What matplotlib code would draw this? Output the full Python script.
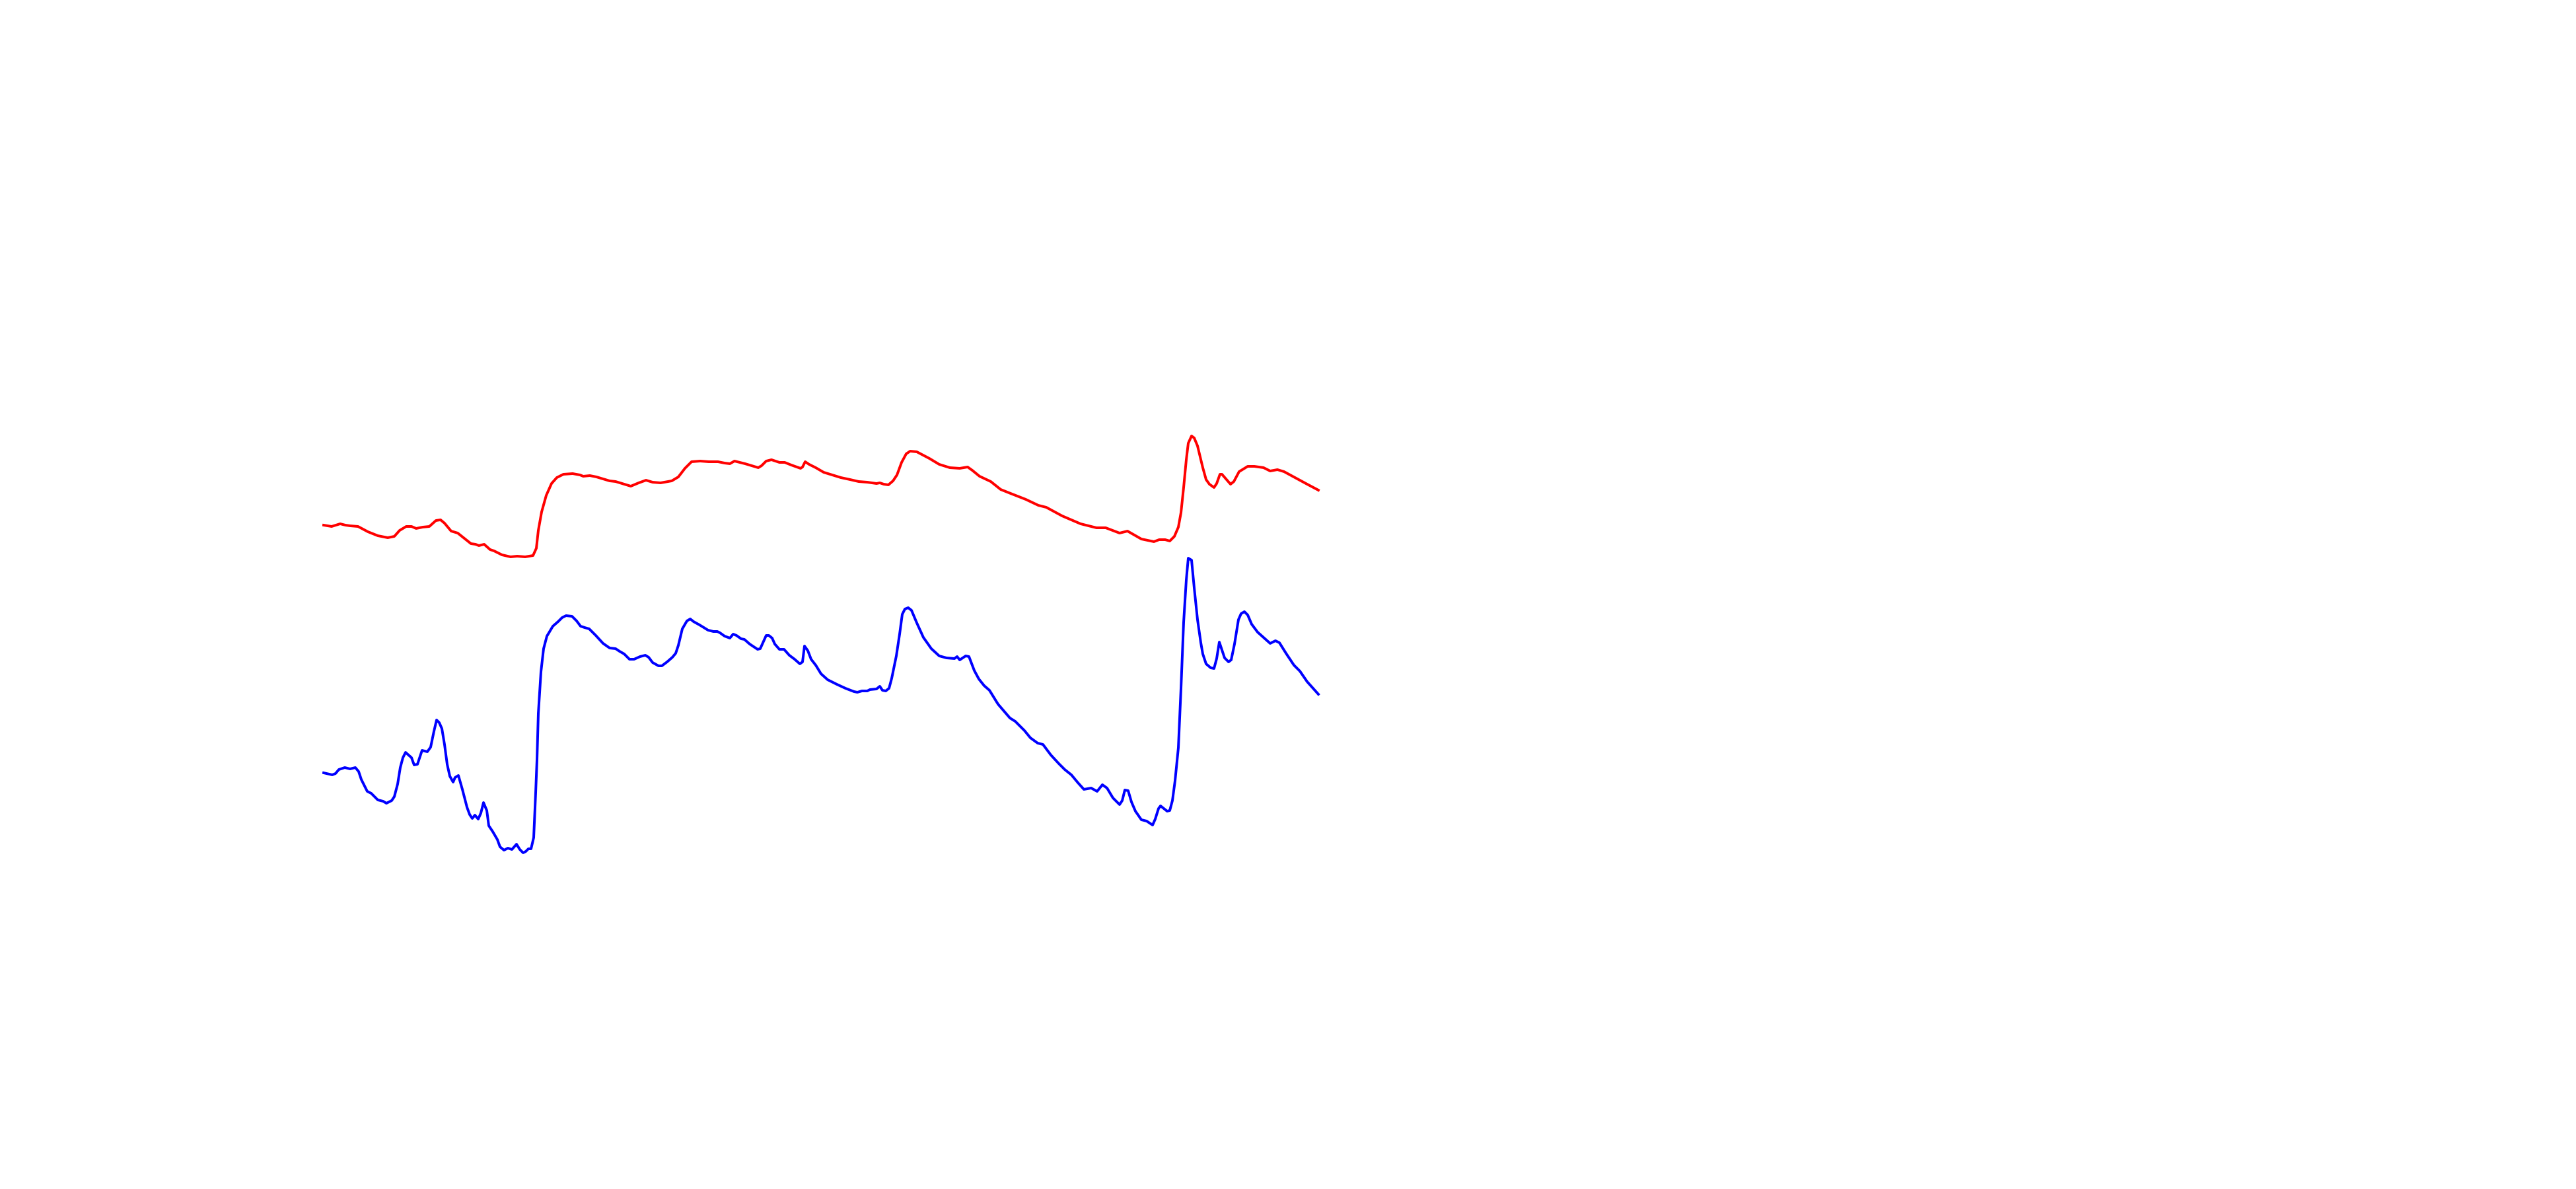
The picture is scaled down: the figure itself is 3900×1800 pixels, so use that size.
import matplotlib
matplotlib.use("Agg")
import matplotlib.pyplot as plt

# Two stacked spectra (arbitrary units)
red_x = [0, 12, 25, 33, 40, 52, 67, 82, 97, 107, 115, 125, 133, 140, 150, 160, 170, 177, 183,
         193, 203, 213, 223, 230, 235, 243, 252, 258, 270, 283, 293, 305, 317, 322, 325, 330,
         337, 345, 353, 363, 377, 388, 393, 403, 413, 423, 433, 442, 455, 465, 477, 488, 498,
         510, 527, 537, 547, 557, 570, 583, 597, 607, 615, 622, 630, 638, 648, 658, 663, 670,
         678, 690, 698, 708, 722, 725, 729, 735, 745, 757, 770, 783, 797, 810, 823, 837, 842,
         848, 855, 862, 868, 875, 882, 888, 898, 917, 932, 948, 963, 975, 982, 993, 1010,
         1025, 1040, 1063, 1082, 1094, 1118, 1146, 1170, 1184, 1205, 1217, 1238, 1257, 1265,
         1274, 1281, 1288, 1294, 1298, 1302, 1306, 1309, 1314, 1318, 1323, 1331, 1336, 1341,
         1348, 1352, 1357, 1360, 1373, 1378, 1386, 1399, 1409, 1423, 1433, 1444, 1454, 1478,
         1489, 1506]
red_y = [1005, 1003, 1007, 1005, 1004, 1003, 995, 989, 986, 988, 997, 1003, 1003, 1000, 1002,
         1003, 1012, 1013, 1008, 996, 993, 985, 977, 976, 974, 976, 968, 966, 960, 957, 958,
         957, 959, 970, 997, 1025, 1050, 1068, 1077, 1082, 1083, 1081, 1079, 1080, 1078, 1075,
         1072, 1071, 1067, 1064, 1069, 1073, 1070, 1069, 1072, 1078, 1091, 1101, 1102, 1101,
         1101, 1099, 1098, 1102, 1100, 1098, 1095, 1092, 1095, 1102, 1104, 1100, 1100, 1096,
         1091, 1093, 1101, 1097, 1092, 1085, 1081, 1077, 1074, 1071, 1070, 1068, 1069, 1067,
         1066, 1072, 1081, 1100, 1113, 1117, 1116, 1106, 1097, 1092, 1091, 1093, 1088, 1079,
         1071, 1059, 1053, 1044, 1035, 1032, 1019, 1007, 1001, 1001, 993, 996, 984, 980, 983,
         983, 981, 988, 1002, 1024, 1062, 1104, 1129, 1140, 1137, 1125, 1092, 1074, 1067,
         1062, 1068, 1082, 1082, 1067, 1071, 1086, 1094, 1094, 1092, 1087, 1089, 1086, 1073,
         1067, 1058]

blue_x = [0, 13, 18, 23, 32, 40, 48, 53, 57, 66, 72, 82, 90, 95, 103, 107, 112, 116, 120, 124,
          133, 137, 142, 149, 157, 162, 167, 171, 175, 179, 183, 187, 191, 196, 199, 204, 210,
          217, 221, 225, 229, 234, 238, 242, 247, 250, 256, 263, 267, 273, 279, 285, 292, 297,
          302, 306, 310, 314, 318, 321, 323, 325, 329, 333, 338, 347, 355, 361, 367, 376, 383,
          389, 395, 402, 412, 423, 433, 442, 448, 455, 463, 470, 479, 487, 492, 498, 507, 512,
          520, 528, 533, 537, 543, 550, 555, 560, 569, 582, 590, 596, 600, 607, 615, 620, 625,
          632, 637, 645, 657, 661, 670, 674, 679, 683, 690, 697, 705, 713, 721, 725, 728, 733,
          738, 745, 753, 763, 777, 790, 803, 808, 815, 823, 827, 837, 842, 846, 851, 856, 860,
          867, 872, 876, 880, 885, 890, 898, 908, 920, 932, 943, 955, 959, 963, 972, 977, 985,
          992, 1000, 1008, 1021, 1039, 1047, 1061, 1070, 1081, 1089, 1101, 1113, 1122, 1132,
          1142, 1151, 1162, 1171, 1179, 1186, 1195, 1205, 1209, 1213, 1218, 1223, 1229, 1238,
          1246, 1255, 1259, 1264, 1267, 1277, 1281, 1285, 1289, 1294, 1298, 1302, 1306, 1309,
          1314, 1318, 1323, 1328, 1331, 1336, 1343, 1348, 1352, 1356, 1364, 1370, 1374, 1379,
          1385, 1389, 1394, 1399, 1405, 1414, 1424, 1433, 1441, 1447, 1457, 1469, 1478, 1489,
          1506]
blue_y = [630, 627, 629, 635, 638, 636, 638, 632, 620, 602, 599, 589, 587, 584, 588, 594, 613,
          638, 653, 661, 653, 642, 643, 664, 662, 669, 693, 710, 706, 697, 673, 643, 625, 616,
          623, 626, 605, 578, 567, 561, 566, 560, 569, 585, 573, 550, 541, 529, 518, 513, 516,
          514, 522, 514, 509, 511, 515, 515, 532, 600, 650, 720, 783, 818, 837, 852, 859, 865,
          868, 867, 860, 852, 850, 848, 838, 826, 819, 818, 814, 810, 802, 802, 806, 808, 805,
          797, 792, 792, 798, 805, 811, 823, 848, 860, 863, 859, 854, 846, 844, 844, 842, 837,
          834, 840, 838, 833, 832, 825, 817, 818, 838, 838, 834, 825, 817, 817, 808, 802, 795,
          798, 822, 815, 802, 793, 780, 771, 764, 758, 753, 752, 754, 754, 756, 757, 761, 755,
          754, 758, 773, 807, 840, 870, 878, 880, 876, 857, 835, 818, 807, 804, 803, 806, 801,
          807, 806, 785, 772, 762, 755, 734, 713, 708, 694, 683, 675, 673, 657, 644, 635, 627,
          615, 605, 607, 602, 612, 607, 592, 582, 588, 604, 603, 586, 572, 559, 557, 551, 560,
          576, 580, 572, 573, 588, 618, 668, 758, 858, 922, 955, 952, 910, 862, 827, 810, 795,
          789, 788, 803, 828, 804, 798, 801, 825, 862, 871, 874, 869, 855, 843, 834, 826, 830,
          827, 811, 793, 784, 768, 749]

fig = plt.figure(figsize=(13, 6), dpi=300)
ax = fig.add_axes([0.125, 0.11, 0.775, 0.77])

ax.plot(red_x, red_y, color='red', linewidth=0.95)
ax.plot(blue_x, blue_y, color='blue', linewidth=0.95)

# data only fills the left half of the axis range
ax.set_xlim(-2.5, 3020)
ax.set_ylim(198, 1584)
ax.axis('off')

plt.savefig("out.png", dpi=300, facecolor='white')
